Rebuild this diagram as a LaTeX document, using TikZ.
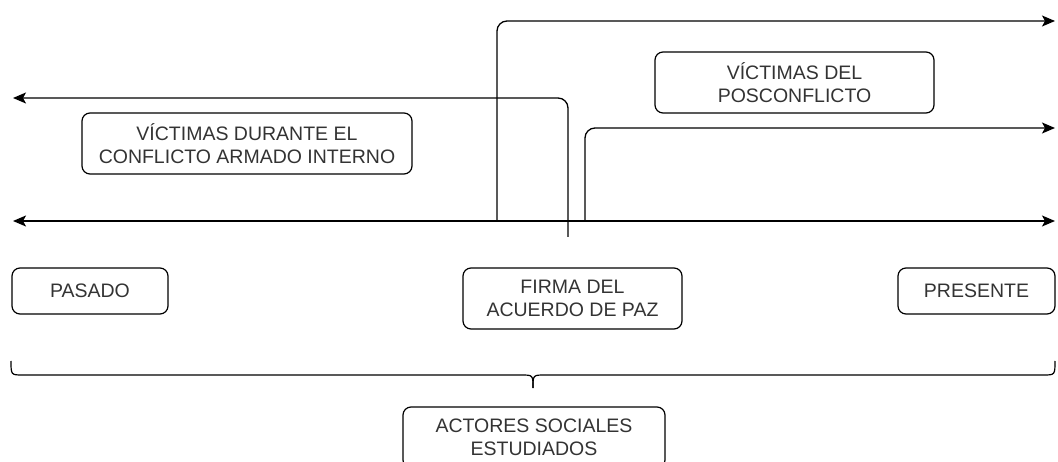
\documentclass[tikz,border=0pt]{standalone}
\usepackage{fontspec}
\setmainfont{Liberation Sans}
\usetikzlibrary{arrows.meta}
\definecolor{dialinecolor}{rgb}{0.000000, 0.000000, 0.000000}
\definecolor{diatextcolor}{rgb}{0.200000, 0.200000, 0.200000}
\tikzset{
  caja/.style={draw=dialinecolor, line width=1.2pt, rounded corners=8pt, align=center,
    text=diatextcolor, font=\fontsize{19.5}{22.5}\selectfont, inner sep=0pt},
  punta/.tip={Stealth[length=13pt,width=11pt,inset=3pt]},
  flecha/.style={draw=dialinecolor, line width=1.3pt, -punta, rounded corners=10pt},
}

\begin{document}
\begin{tikzpicture}[x=1pt,y=-1pt]
\useasboundingbox (0,0) rectangle (1058,462);
\clip (0,0) rectangle (1058,462);
% cajas de arriba
\node[caja, minimum width=330pt, minimum height=61pt] (victdur) at (247,143.5) {VÍCTIMAS DURANTE EL\\CONFLICTO ARMADO INTERNO};
\node[caja, minimum width=279pt, minimum height=61pt] (victpos) at (794.5,82.5) {VÍCTIMAS DEL\\POSCONFLICTO};
% cajas de la linea de tiempo
\node[caja, minimum width=156pt, minimum height=46pt] (pasado) at (90,291) {PASADO};
\node[caja, minimum width=219pt, minimum height=61pt] (firma) at (572.5,298.5) {FIRMA DEL\\ACUERDO DE PAZ};
\node[caja, minimum width=157pt, minimum height=46pt] (presente) at (976.5,291) {PRESENTE};
\node[caja, minimum width=262pt, minimum height=61pt] (actores) at (534,437.5) {ACTORES SOCIALES\\ESTUDIADOS};
% linea de tiempo
\coordinate (izq) at (13,221);
\coordinate (der) at (1055,221);
\draw[flecha, punta-punta] (izq) -- (der);
% flechas de las victimas
\coordinate (baseA) at (497,221);
\coordinate (finA) at (1055,21);
\draw[flecha] (baseA) |- (finA);
\coordinate (baseB) at (568,237);
\coordinate (finB) at (13,98);
\draw[flecha] (baseB) |- (finB);
\coordinate (baseC) at (585,221);
\coordinate (finC) at (1055,128);
\draw[flecha] (baseC) |- (finC);
% llave
\coordinate (llave) at (533,388);
\draw[draw=dialinecolor, line width=1.2pt] (11,361) .. controls (11,375) .. (23,375) -- (521,375) .. controls (533,375) .. (llave);
\draw[draw=dialinecolor, line width=1.2pt] (1055,361) .. controls (1055,375) .. (1043,375) -- (545,375) .. controls (533,375) .. (llave);
\end{tikzpicture}
\end{document}
